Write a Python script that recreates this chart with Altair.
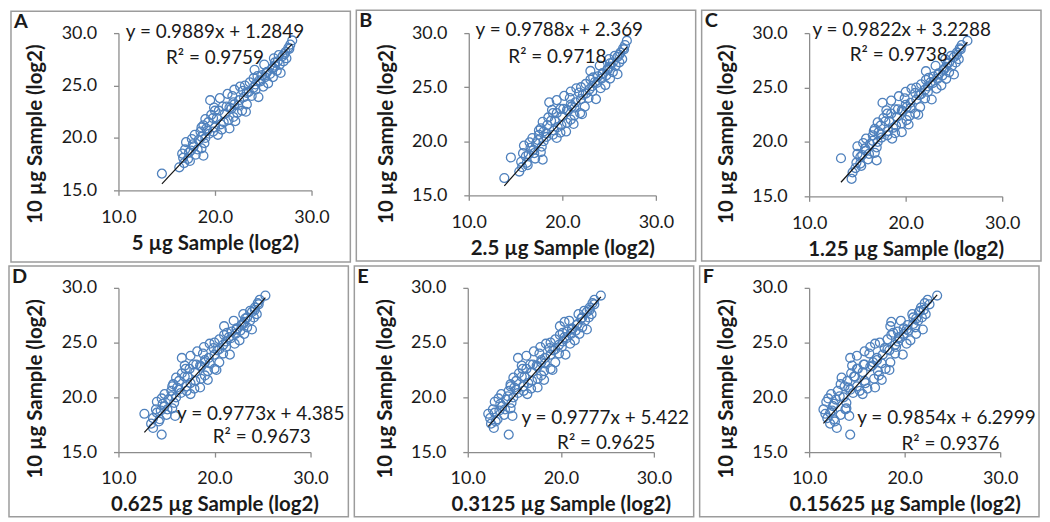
import altair as alt
import pandas as pd

LETTERS = ["A", "B", "C", "D", "E", "F"]
X_TITLES = ["5 µg Sample (log2)", "2.5 µg Sample (log2)", "1.25 µg Sample (log2)",
            "0.625 µg Sample (log2)", "0.3125 µg Sample (log2)", "0.15625 µg Sample (log2)"]
Y_TITLE = "10 µg Sample (log2)"
SLOPES = [0.9889, 0.9788, 0.9822, 0.9773, 0.9777, 0.9854]
INTERCEPTS = [1.2849, 2.369, 3.2288, 4.385, 5.422, 6.2999]
EQ_TEXT = ["y = 0.9889x + 1.2849", "y = 0.9788x + 2.369", "y = 0.9822x + 3.2288",
           "y = 0.9773x + 4.385", "y = 0.9777x + 5.422", "y = 0.9854x + 6.2999"]
R2_TEXT = ["R² = 0.9759", "R² = 0.9718", "R² = 0.9738", "R² = 0.9673", "R² = 0.9625", "R² = 0.9376"]
X_TICKS = [10, 20, 30]
Y_TICKS = [15, 20, 25, 30]

# 10 µg sample (log2) -- shared y values (same proteins in every panel)
Y_10UG = [16.6, 17.2, 18.5, 19.6, 18.0, 18.8, 19.2, 17.8, 18.4, 19.8,
          20.3, 20.6, 19.0, 18.3, 20.0, 18.9, 19.9, 18.9, 21.2, 21.8,
          21.5, 23.6, 22.2, 20.6, 21.0, 21.9, 22.6, 23.8, 20.8, 21.5,
          22.3, 23.0, 21.7, 20.9, 22.8, 24.0, 23.2, 21.6, 22.4, 23.6,
          24.9, 22.6, 23.9, 25.0, 23.2, 24.4, 22.5, 24.6, 24.2, 23.0,
          20.7, 22.9, 20.3, 25.3, 24.0, 25.7, 24.6, 25.9, 23.9, 25.4,
          26.0, 24.9, 25.8, 26.3, 25.2, 26.1, 26.6, 25.8, 26.9, 26.4,
          27.3, 27.0, 26.2, 27.8, 27.3, 28.2, 27.6, 28.6, 28.9, 29.3,
          26.5, 27.0, 27.6, 19.4, 20.9, 21.9, 22.9, 23.4, 24.3, 24.8,
          25.5, 26.2, 27.2, 28.0, 28.5, 20.1, 18.6, 17.6, 21.3, 22.0,
          23.1, 25.1, 26.7, 19.5, 20.4, 24.5, 21.0, 22.6, 18.1, 27.9]

X_5UG = [14.5, 16.3, 16.6, 17.0, 17.2, 17.5, 17.8, 17.4, 18.0, 18.3,
         17.9, 18.5, 18.6, 18.8, 19.0, 16.9, 17.6, 18.2, 18.8, 19.0,
         19.3, 19.5, 19.6, 19.8, 20.0, 20.2, 20.4, 20.5, 20.7, 20.9,
         21.0, 21.2, 21.4, 21.5, 21.7, 21.8, 22.0, 22.1, 22.3, 22.5,
         22.6, 22.8, 23.0, 23.1, 23.3, 23.5, 23.2, 22.0, 21.3, 20.8,
         19.2, 19.9, 20.3, 23.6, 23.8, 24.0, 24.2, 24.4, 24.5, 24.7,
         24.9, 25.0, 25.2, 25.4, 25.5, 25.7, 25.9, 26.0, 26.2, 26.4,
         26.5, 26.7, 26.8, 27.0, 27.1, 27.3, 27.4, 27.6, 27.8, 28.0,
         24.1, 25.1, 26.1, 17.7, 19.1, 19.8, 21.5, 21.9, 23.3, 24.0,
         24.6, 25.3, 26.2, 27.2, 27.7, 18.6, 17.3, 16.8, 20.6, 21.9,
         22.4, 24.2, 26.0, 18.9, 19.4, 22.9, 18.6, 20.0, 16.7, 26.6]

X_2_5UG = [13.8, 15.4, 14.5, 15.9, 16.2, 16.4, 16.9, 16.3, 17.1, 17.2,
           16.8, 17.5, 17.7, 17.9, 18.0, 15.8, 16.5, 17.0, 17.7, 17.9,
           18.4, 18.6, 18.5, 19.0, 19.1, 19.2, 19.4, 19.4, 19.8, 19.9,
           20.0, 20.1, 20.5, 20.4, 20.6, 20.8, 21.0, 21.2, 21.3, 21.4,
           21.5, 21.9, 22.0, 22.0, 22.4, 22.5, 22.1, 20.9, 20.2, 19.8,
           18.3, 18.9, 19.4, 22.5, 22.8, 23.0, 23.2, 23.3, 23.6, 23.7,
           23.8, 24.1, 24.2, 24.3, 24.6, 24.7, 24.8, 25.1, 25.1, 25.4,
           25.4, 25.7, 25.9, 25.9, 26.1, 26.2, 26.4, 26.5, 26.7, 26.9,
           23.0, 24.0, 25.0, 16.6, 18.0, 18.8, 20.5, 20.9, 22.2, 22.9,
           23.5, 24.3, 25.1, 26.1, 26.6, 17.4, 16.1, 15.7, 19.5, 20.9,
           21.3, 23.2, 24.9, 17.8, 18.3, 21.8, 17.5, 19.0, 15.6, 25.6]

X_1_25UG = [14.4, 14.5, 13.3, 15.0, 15.3, 15.5, 15.9, 15.4, 16.1, 16.3,
            15.9, 16.6, 16.8, 17.0, 17.1, 15.0, 15.6, 16.2, 16.8, 17.1,
            17.4, 17.6, 17.7, 18.1, 18.2, 18.3, 18.5, 18.5, 18.9, 19.0,
            19.1, 19.2, 19.6, 19.6, 19.7, 19.9, 20.1, 20.3, 20.4, 20.5,
            20.6, 21.0, 21.1, 21.1, 21.5, 21.6, 21.3, 20.0, 19.3, 18.9,
            17.4, 18.0, 18.6, 21.6, 22.0, 22.1, 22.3, 22.4, 22.7, 22.8,
            22.9, 23.2, 23.3, 23.4, 23.7, 23.8, 23.9, 24.2, 24.2, 24.5,
            24.5, 24.8, 25.0, 25.0, 25.2, 25.3, 25.5, 25.6, 25.8, 26.4,
            22.1, 23.1, 24.1, 15.8, 17.2, 17.9, 19.6, 20.0, 21.4, 22.0,
            22.6, 23.4, 24.3, 25.3, 25.7, 16.6, 15.3, 14.8, 18.7, 20.1,
            20.5, 22.3, 24.0, 17.0, 17.5, 21.0, 16.7, 18.1, 14.9, 24.7]

X_0_625UG = [14.5, 13.6, 12.7, 14.0, 14.3, 14.4, 14.8, 14.2, 15.0, 15.2,
             14.8, 15.5, 15.6, 15.9, 16.0, 13.9, 14.5, 15.1, 15.7, 16.0,
             16.3, 16.6, 16.6, 17.1, 17.1, 17.2, 17.4, 17.5, 17.9, 18.0,
             18.0, 18.1, 18.6, 18.5, 18.6, 18.8, 19.0, 19.3, 19.3, 19.4,
             19.5, 20.0, 20.0, 20.0, 20.5, 20.5, 20.2, 18.9, 18.2, 17.8,
             16.3, 16.9, 17.5, 20.5, 20.9, 21.0, 21.2, 21.3, 21.6, 21.7,
             21.8, 22.1, 22.2, 22.3, 22.6, 22.7, 22.8, 23.1, 23.1, 23.4,
             23.4, 23.7, 23.9, 23.9, 24.1, 24.2, 24.4, 24.5, 24.7, 25.3,
             21.0, 22.0, 23.0, 14.6, 16.1, 16.9, 18.5, 19.0, 20.3, 20.9,
             21.5, 22.3, 23.2, 24.2, 24.6, 15.5, 14.0, 13.4, 17.5, 19.0,
             19.5, 21.2, 23.0, 15.8, 16.5, 19.9, 15.6, 17.0, 13.6, 23.7]

X_0_3125UG = [14.4, 12.8, 12.2, 12.9, 13.2, 13.4, 13.7, 13.0, 13.9, 14.1,
              13.6, 14.4, 14.6, 14.8, 14.9, 12.7, 13.3, 14.0, 14.6, 14.9,
              15.2, 15.4, 15.5, 16.0, 16.0, 16.1, 16.3, 16.3, 16.8, 16.9,
              16.9, 17.0, 17.5, 17.5, 17.5, 17.7, 17.9, 18.2, 18.2, 18.3,
              18.4, 18.9, 18.9, 18.9, 19.4, 19.4, 19.1, 17.8, 17.1, 16.7,
              15.2, 15.8, 16.4, 19.4, 19.8, 19.9, 20.1, 20.2, 20.5, 20.6,
              20.7, 21.0, 21.1, 21.2, 21.5, 21.6, 21.7, 22.0, 20.4, 22.3,
              22.3, 22.6, 22.8, 22.8, 23.0, 23.1, 23.3, 23.4, 23.6, 24.3,
              19.9, 20.9, 21.9, 13.5, 15.0, 15.8, 17.4, 17.9, 19.2, 19.8,
              20.4, 21.2, 22.2, 23.1, 23.6, 14.3, 12.9, 12.5, 16.5, 17.9,
              18.3, 20.2, 21.8, 14.7, 15.4, 18.8, 14.6, 15.9, 12.4, 22.5]

X_0_15625UG = [14.3, 12.9, 11.7, 11.8, 12.6, 12.4, 12.5, 12.7, 13.3, 12.8,
               12.3, 13.0, 13.9, 14.2, 13.6, 11.5, 12.0, 13.8, 13.3, 13.4,
               14.0, 14.3, 14.4, 15.3, 15.0, 14.8, 15.1, 15.0, 16.1, 15.8,
               15.6, 15.8, 16.8, 16.9, 16.4, 16.3, 16.7, 17.6, 17.2, 17.1,
               16.9, 18.0, 17.7, 17.4, 18.5, 18.2, 18.4, 16.4, 15.8, 15.7,
               14.3, 14.5, 15.6, 18.2, 19.0, 18.6, 19.1, 18.8, 19.8, 19.5,
               19.3, 20.2, 19.9, 19.9, 20.6, 20.4, 20.3, 21.2, 18.6, 21.1,
               20.9, 21.4, 21.9, 21.5, 21.8, 21.7, 22.2, 22.1, 22.4, 23.4,
               18.5, 19.6, 20.8, 12.6, 14.1, 14.7, 16.6, 17.1, 18.4, 19.0,
               19.4, 20.2, 21.2, 22.0, 22.6, 13.2, 12.2, 12.2, 15.9, 17.3,
               17.6, 19.3, 20.9, 13.9, 14.6, 17.9, 13.7, 15.0, 11.9, 21.6]

X_LISTS = [X_5UG, X_2_5UG, X_1_25UG, X_0_625UG, X_0_3125UG, X_0_15625UG]

# layout per panel (pixels): plot left, plot top, plot width, plot height,
# equation centre, R² centre (relative to the plot area)
PANEL_W, PANEL_H = 341, 252
LAYOUT = [
    dict(L=108, T=22, PW=194, PH=158, eq=(97, -1), r2=(97, 25)),
    dict(L=113, T=23, PW=188, PH=163, eq=(91, -3), r2=(89, 24)),
    dict(L=108, T=23, PW=194, PH=164, eq=(93, -3), r2=(90, 22)),
    dict(L=110, T=22, PW=193, PH=165, eq=(143, 127), r2=(144, 150)),
    dict(L=114, T=22, PW=187, PH=165, eq=(138, 131), r2=(139, 156)),
    dict(L=110, T=22, PW=192, PH=165, eq=(138, 131), r2=(142, 157)),
]

FONT = "Lato"
TXT = "#1a1a1a"
AXC = "#8c8c8c"
BLUE = "#4F81BD"


def panel(i):
    lay = LAYOUT[i]
    L, T, PW, PH = lay["L"], lay["T"], lay["PW"], lay["PH"]
    df = pd.DataFrame({"x": X_LISTS[i], "y": Y_10UG})
    xs = [min(X_LISTS[i]), max(X_LISTS[i])]
    line_df = pd.DataFrame({"x": xs, "y": [SLOPES[i] * v + INTERCEPTS[i] for v in xs]})

    x_enc = alt.X("x:Q", scale=alt.Scale(domain=[10, 30], nice=False, zero=False),
                  axis=alt.Axis(values=X_TICKS, format=".1f", title=X_TITLES[i], grid=False,
                                tickSize=5, tickColor=AXC, domainColor=AXC, domainWidth=1.3,
                                tickWidth=1.3, labelFont=FONT, labelFontSize=18,
                                labelColor=TXT, labelPadding=13, labelFlush=False,
                                titleFont=FONT, titleFontSize=20.5, titleFontWeight="bold",
                                titleColor=TXT, titleY=53, titleBaseline="middle"))
    y_enc = alt.Y("y:Q", scale=alt.Scale(domain=[15, 30], nice=False, zero=False),
                  axis=alt.Axis(values=Y_TICKS, format=".1f", title=Y_TITLE, grid=False,
                                tickSize=5, tickColor=AXC, domainColor=AXC, domainWidth=1.3,
                                tickWidth=1.3, labelFont=FONT, labelFontSize=18,
                                labelColor=TXT, labelPadding=17, labelFlush=False,
                                titleFont=FONT, titleFontSize=20.5, titleFontWeight="bold",
                                titleColor=TXT, titleAngle=270, titleX=-83, titleY=101,
                                titleBaseline="middle", titleAlign="center"))

    one = pd.DataFrame({"t": [""]})
    border = alt.Chart(one).mark_rect(fill="white", fillOpacity=0, stroke="#9c9c9c",
                                      strokeWidth=1.5).encode(
        x=alt.value(-L), x2=alt.value(PANEL_W - L), y=alt.value(-T), y2=alt.value(PANEL_H - T))
    pts = alt.Chart(df).mark_point(shape="circle", filled=False, size=80, strokeWidth=1.3,
                                   color=BLUE, opacity=1).encode(x=x_enc, y=y_enc)
    trend = alt.Chart(line_df).mark_line(color="#111111", strokeWidth=1.2).encode(x=x_enc, y=y_enc)
    eq = alt.Chart(pd.DataFrame({"t": [EQ_TEXT[i]]})).mark_text(
        font=FONT, fontSize=19, color=TXT, align="center", baseline="middle").encode(
        x=alt.value(lay["eq"][0]), y=alt.value(lay["eq"][1]), text="t:N")
    r2 = alt.Chart(pd.DataFrame({"t": [R2_TEXT[i]]})).mark_text(
        font=FONT, fontSize=19, color=TXT, align="center", baseline="middle").encode(
        x=alt.value(lay["r2"][0]), y=alt.value(lay["r2"][1]), text="t:N")
    letter = alt.Chart(pd.DataFrame({"t": [LETTERS[i]]})).mark_text(
        font=FONT, fontSize=20, fontWeight="bold", color=TXT, align="left", baseline="middle").encode(
        x=alt.value(3 - L), y=alt.value(11 - T), text="t:N")
    return alt.layer(border, pts, trend, eq, r2, letter).properties(width=PW, height=PH)


panels = [panel(i) for i in range(6)]
row1 = alt.hconcat(*panels[:3], spacing=4)
row2 = alt.hconcat(*panels[3:], spacing=4)
chart = alt.vconcat(row1, row2, spacing=2).properties(padding=0).configure_view(stroke=None)

chart.save("out.html", embed_options={"renderer": "svg", "actions": False})
